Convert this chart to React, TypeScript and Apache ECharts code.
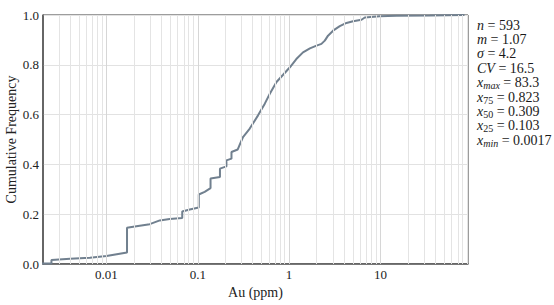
import React, { useEffect, useRef } from "react";
import * as echarts from "echarts";

const auValues = [
  0.0017, 0.0025, 0.0025, 0.004, 0.0066, 0.01, 0.0168, 0.0168, 0.0213, 0.0298,
  0.0384, 0.0493, 0.0676, 0.0676, 0.0817, 0.1026, 0.1026, 0.119, 0.138, 0.138,
  0.175, 0.175, 0.206, 0.206, 0.234, 0.234, 0.274, 0.313, 0.371, 0.457,
  0.542, 0.615, 0.728, 0.86, 1.02, 1.2, 1.42, 1.69, 2.0, 2.26,
  2.46, 2.67, 3.03, 3.59, 4.25, 5.02, 6.21, 6.75, 9.85, 15.0,
  34.7, 83.3,
];
const cumFreq = [
  0.002, 0.002, 0.016, 0.021, 0.025, 0.032, 0.046, 0.146, 0.152, 0.16,
  0.175, 0.181, 0.185, 0.211, 0.219, 0.227, 0.279, 0.29, 0.305, 0.343,
  0.349, 0.383, 0.392, 0.416, 0.423, 0.45, 0.46, 0.51, 0.544, 0.597,
  0.644, 0.684, 0.731, 0.76, 0.79, 0.823, 0.85, 0.866, 0.877, 0.884,
  0.897, 0.917, 0.937, 0.955, 0.968, 0.975, 0.981, 0.99, 0.995, 0.997,
  0.998, 1.0,
];

// x tick labels (log axis decades)
const xTickValues = [0.01, 0.1, 1, 10];
const xTickLabels = ["0.01", "0.1", "1", "10"];
const xAxisRange = [0.00202, 91];

const yAxisTitle = "Cumulative Frequency";

// statistics annotation
const statLines = [
  "{i|n} = 593",
  "{i|m} = 1.07",
  "{i|σ} = 4.2",
  "{i|CV} = 16.5",
  "{i|x}{si|max} = 83.3",
  "{i|x}{s|75} = 0.823",
  "{i|x}{s|50} = 0.309",
  "{i|x}{s|25} = 0.103",
  "{i|x}{si|min} = 0.0017",
];

const FONT = "'Liberation Serif', 'DejaVu Serif', serif";

export default function App() {
  const ref = useRef<HTMLDivElement>(null);
  useEffect(() => {
    if (!ref.current) return;
    const chart = echarts.init(ref.current, undefined, { renderer: "svg" });
    const lmin = Math.log10(xAxisRange[0]);
    const lmax = Math.log10(xAxisRange[1]);

    const minorLines: any[] = [];
    const majorLines: any[] = [];
    for (let d = -3; d <= 2; d++) {
      for (let k = 1; k <= 9; k++) {
        const v = Math.log10(k) + d;
        if (v > lmin + 0.003 && v < lmax - 0.003) {
          if (k === 1) majorLines.push({ xAxis: v });
          else minorLines.push({ xAxis: v });
        }
      }
    }

    const data = auValues.map((v, i) => [Math.log10(v), cumFreq[i]]);

    const labelMap: Record<string, string> = {};
    xTickValues.forEach((v, i) => {
      labelMap[Math.log10(v).toFixed(3)] = xTickLabels[i];
    });

    const statGraphics = statLines.map((t, i) => ({
      type: "text",
      left: 477,
      top: 25 + i * 14.4 - 8,
      silent: true,
      style: {
        text: t,
        fontFamily: FONT,
        fontSize: 14,
        fill: "#1a1a1a",
        lineHeight: 16,
        rich: {
          i: { fontStyle: "italic", fontFamily: FONT, fontSize: 14, lineHeight: 16 },
          s: { fontFamily: FONT, fontSize: 10, lineHeight: 9, verticalAlign: "bottom" },
          si: { fontStyle: "italic", fontFamily: FONT, fontSize: 10, lineHeight: 9, verticalAlign: "bottom" },
        },
      },
    }));

    chart.setOption({
      animation: false,
      backgroundColor: "#ffffff",
      textStyle: { fontFamily: FONT },
      grid: {
        left: 43,
        right: 86,
        top: 15,
        bottom: 41,
        show: true,
        borderColor: "#3a3a3a",
        borderWidth: 1,
        containLabel: false,
        outerBoundsMode: "none",
      },
      xAxis: {
        type: "value",
        min: lmin,
        max: lmax,
        name: "Au (ppm)",
        nameLocation: "middle",
        nameGap: 21,
        nameTextStyle: { fontFamily: FONT, fontSize: 14, color: "#222" },
        axisLine: { show: true, onZero: false, lineStyle: { color: "#555", width: 1.5 } },
        axisTick: { show: false },
        splitLine: { show: false },
        axisLabel: {
          customValues: xTickValues.map((v) => Math.log10(v)),
          formatter: (v: number) => labelMap[v.toFixed(3)] ?? "",
          fontFamily: FONT,
          fontSize: 13,
          color: "#222",
          margin: 4,
        },
      },
      yAxis: {
        type: "value",
        min: 0,
        max: 1,
        interval: 0.2,
        axisLine: { show: true, onZero: false, lineStyle: { color: "#555", width: 1.5 } },
        axisTick: { show: false },
        splitLine: { show: true, lineStyle: { color: "#e2e2e2", width: 1 } },
        axisLabel: {
          formatter: (v: number) => v.toFixed(1),
          fontFamily: FONT,
          fontSize: 13,
          color: "#222",
          margin: 4,
        },
      },
      series: [
        {
          type: "line",
          data: [],
          z: 1,
          silent: true,
          markLine: {
            silent: true,
            symbol: "none",
            label: { show: false },
            animation: false,
            lineStyle: { color: "#e4e4e4", width: 1, type: "solid" },
            data: minorLines,
          },
        },
        {
          type: "line",
          data: [],
          z: 1,
          silent: true,
          markLine: {
            silent: true,
            symbol: "none",
            label: { show: false },
            animation: false,
            lineStyle: { color: "#d6d6d6", width: 1, type: "solid" },
            data: majorLines,
          },
        },
        {
          type: "line",
          data,
          z: 3,
          clip: true,
          showSymbol: false,
          symbol: "none",
          lineStyle: { color: "#71808f", width: 2 },
        },
      ],
      graphic: [
        {
          type: "text",
          x: 11,
          y: 139.5,
          rotation: Math.PI / 2,
          silent: true,
          style: {
            text: yAxisTitle,
            fontFamily: FONT,
            fontSize: 14,
            fill: "#222",
            align: "center",
            verticalAlign: "middle",
          },
        },
        ...statGraphics,
      ],
    });
    return () => chart.dispose();
  }, []);
  return (
    <div
      ref={ref}
      style={{ position: "fixed", left: 0, top: 0, width: 554, height: 305 }}
    />
  );
}
